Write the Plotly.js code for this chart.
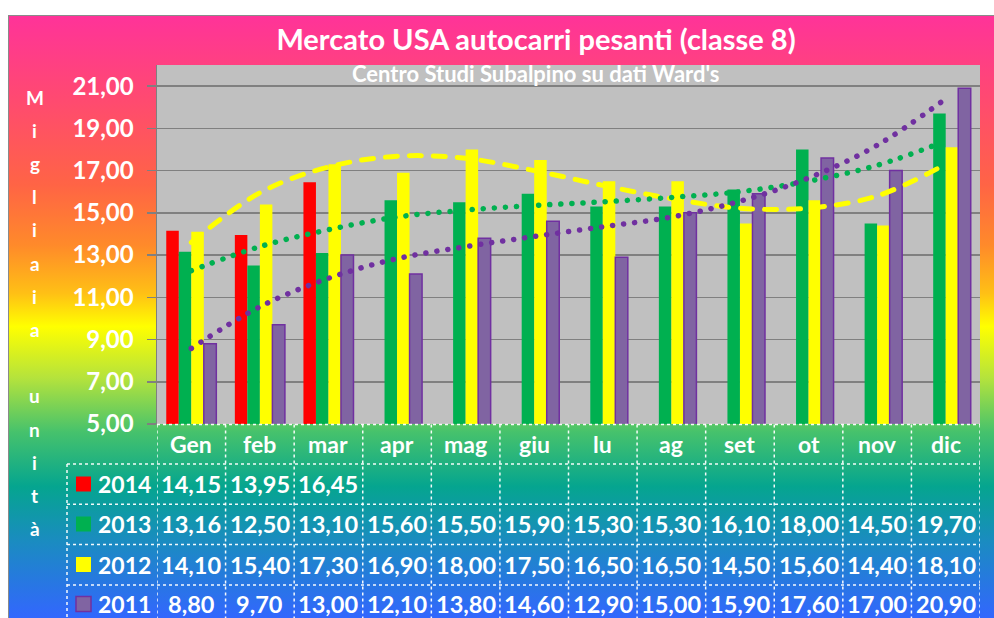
<!DOCTYPE html>
<html>
<head>
<meta charset="utf-8">
<script src="https://cdn.plot.ly/plotly-3.0.1.min.js"></script>
<style>
  html, body { margin: 0; padding: 0; background: #ffffff; }
  #bg {
    position: absolute; left: 8px; top: 15px; width: 986px; height: 603px;
    border-left: 1.5px solid #8a8a8a; border-top: 1.5px solid #8a8a8a;
    background: linear-gradient(to bottom,
      #ff3399 0%, #ff4a70 14%, #ff6445 28%, #ff8a2a 38%, #ffc015 46%,
      #ffff00 51.5%, #b5e33c 60%, #46c26c 69%, #05a58f 78%, #1a8cc0 87%, #3366ff 100%);
  }
  #chart { position: absolute; left: 0; top: 0; width: 994px; height: 618px; }
  .js-line { stroke-linecap: round; }
</style>
</head>
<body>
<div id="bg"></div>
<div id="chart"></div>
<script>
// ---- data ----
const months = ['Gen','feb','mar','apr','mag','giu','lu','ag','set','ot','nov','dic'];
const years = ['2014','2013','2012','2011'];
const y2014 = [14.15,13.95,16.45,null,null,null,null,null,null,null,null,null];
const y2013 = [13.16,12.50,13.10,15.60,15.50,15.90,15.30,15.30,16.10,18.00,14.50,19.70];
const y2012 = [14.10,15.40,17.30,16.90,18.00,17.50,16.50,16.50,14.50,15.60,14.40,18.10];
const y2011 = [8.80,9.70,13.00,12.10,13.80,14.60,12.90,15.00,15.90,17.60,17.00,20.90];
// trend lines
const trend2012 = [13.60,15.95,17.17,17.68,17.58,17.00,16.30,15.67,15.22,15.22,15.80,17.30];
const trend2013 = [12.26,13.40,14.20,14.80,15.13,15.35,15.52,15.73,16.00,16.50,17.25,18.40];
const trend2011 = [8.58,10.55,11.90,12.83,13.40,13.88,14.34,14.80,15.55,16.65,18.20,20.40];
const yTicks = [5,7,9,11,13,15,17,19,21];

// ---- styles ----
const colors = ['#ff0000','#00b050','#ffff00','#8064a2'];
const FONT = 'Lato, "Open Sans", sans-serif';
const series = [y2014, y2013, y2012, y2011];

const traces = series.map((s, k) => ({
  type: 'bar', x: months, y: s, name: years[k],
  marker: { color: colors[k], line: { color: k === 3 ? '#7030a0' : colors[k], width: k === 3 ? 1.5 : 0 } },
  hoverinfo: 'x+y'
}));
traces.push({ type: 'scatter', mode: 'lines', x: months, y: trend2012, hoverinfo: 'skip',
  line: { color: '#ffff00', width: 5, dash: '12px,12px', shape: 'spline', smoothing: 1 } });
traces.push({ type: 'scatter', mode: 'lines', x: months, y: trend2013, hoverinfo: 'skip',
  line: { color: '#00b050', width: 5.5, dash: '0.1px,11px', shape: 'spline', smoothing: 1 } });
traces.push({ type: 'scatter', mode: 'lines', x: months, y: trend2011, hoverinfo: 'skip',
  line: { color: '#7030a0', width: 5.5, dash: '0.1px,11px', shape: 'spline', smoothing: 1 } });

// geometry helpers (pixel -> paper)
const L = 157, R = 980, T = 65, B = 424;
const px = x => (x - L) / (R - L);
const py = y => (B - y) / (B - T);

const annotations = [];
const shapes = [];
const white = '#ffffff';

// subtitle
annotations.push({ xref: 'paper', yref: 'paper', x: px(536), y: py(74), text: "Centro Studi Subalpino su dati Ward's",
  showarrow: false, font: { family: FONT, size: 22, color: white, weight: 700 }, xanchor: 'center', yanchor: 'middle' });

// vertical y-axis title letters
const yTitle = 'Migliaia unità';
Array.from(yTitle).forEach((ch, i) => {
  if (ch === ' ') return;
  annotations.push({ xref: 'paper', yref: 'paper', x: px(35), y: py(97 + 33.2 * i), text: ch, showarrow: false,
    font: { family: FONT, size: 19, color: white, weight: 700 }, xanchor: 'center', yanchor: 'middle' });
});

// table: header row (months)
months.forEach((m, i) => {
  annotations.push({ xref: 'x', yref: 'paper', x: i, y: py(444), text: m, showarrow: false,
    font: { family: FONT, size: 23, color: white, weight: 700 }, xanchor: 'center', yanchor: 'middle' });
});
const rowCenters = [484, 524, 564.5, 604];
const fmt = v => v.toFixed(2).replace('.', ',');
series.forEach((s, k) => {
  const yc = py(rowCenters[k]);
  shapes.push({ type: 'rect', xref: 'paper', yref: 'paper', x0: px(76), x1: px(91), y0: py(rowCenters[k] - 7.5), y1: py(rowCenters[k] + 7.5),
    fillcolor: colors[k], line: { color: k === 3 ? '#7030a0' : colors[k], width: k === 3 ? 1.5 : 0 } });
  annotations.push({ xref: 'paper', yref: 'paper', x: px(96), y: yc, text: years[k], showarrow: false,
    font: { family: FONT, size: 23, color: white, weight: 700 }, xanchor: 'left', yanchor: 'middle' });
  s.forEach((v, i) => {
    if (v === null) return;
    annotations.push({ xref: 'x', yref: 'paper', x: i, y: yc, text: fmt(v), showarrow: false,
      font: { family: FONT, size: 23.5, color: white, weight: 700 }, xanchor: 'center', yanchor: 'middle' });
  });
});

// table grid (white dotted)
const gl = { color: 'rgba(255,255,255,0.95)', width: 1.5, dash: 'dot' };
const hLines = [464, 504.3, 544.5, 585];
shapes.push({ type: 'line', xref: 'paper', yref: 'paper', x0: 0, x1: 1, y0: py(424.5), y1: py(424.5), line: gl });
hLines.forEach(y => shapes.push({ type: 'line', xref: 'paper', yref: 'paper', x0: px(67), x1: 1, y0: py(y), y1: py(y), line: gl }));
for (let i = 0; i <= months.length; i++) {
  shapes.push({ type: 'line', xref: 'x', yref: 'paper', x0: i - 0.5, x1: i - 0.5, y0: py(424.5), y1: py(640), line: gl });
}
shapes.push({ type: 'line', xref: 'paper', yref: 'paper', x0: px(67), x1: px(67), y0: py(464), y1: py(640), line: gl });

const layout = {
  width: 994, height: 618,
  margin: { l: L, r: 994 - R, t: T, b: 618 - B, pad: 0 },
  paper_bgcolor: 'rgba(0,0,0,0)',
  plot_bgcolor: '#c0c0c0',
  separators: ',.',
  showlegend: false,
  barmode: 'group', bargap: 0.27, bargroupgap: 0,
  title: { text: 'Mercato USA autocarri pesanti (classe 8)', xref: 'paper', x: px(536), xanchor: 'center',
    yref: 'container', y: 1 - 40 / 618, yanchor: 'middle',
    font: { family: FONT, size: 29, color: white, weight: 700 } },
  xaxis: { type: 'category', range: [-0.5, 11.5], showticklabels: false, ticks: '', showline: false, showgrid: false, zeroline: false, fixedrange: true },
  yaxis: { range: [5, 22], tickvals: yTicks, tickformat: '.2f', ticks: 'outside', ticklen: 9, tickcolor: '#808080', tickwidth: 1.5,
    showline: true, linecolor: '#808080', linewidth: 1.5, gridcolor: '#808080', gridwidth: 1.5, zeroline: false,
    ticklabelstandoff: 8,
    tickfont: { family: FONT, size: 24, color: white, weight: 700 }, fixedrange: true },
  annotations: annotations,
  shapes: shapes
};

Plotly.newPlot('chart', traces, layout, { displayModeBar: false, staticPlot: true });
</script>
</body>
</html>
